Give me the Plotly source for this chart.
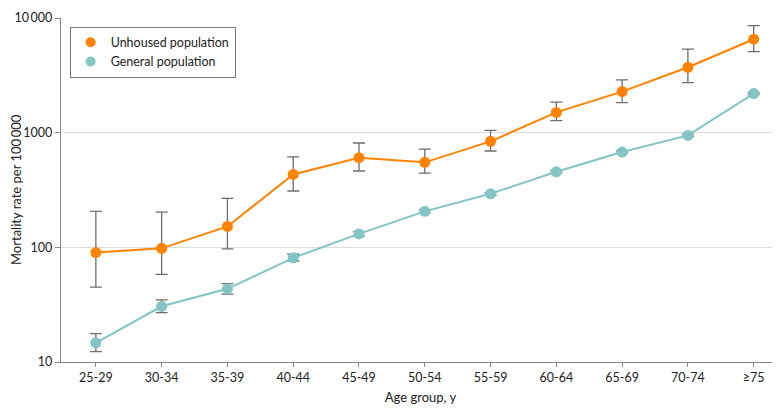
import plotly.graph_objects as go

age_groups = ["25-29", "30-34", "35-39", "40-44", "45-49", "50-54", "55-59", "60-64", "65-69", "70-74", "≥75"]

unhoused = [90, 98, 152, 432, 605, 551, 840, 1503, 2281, 3718, 6530]
unhoused_hi = [206, 203, 267, 614, 813, 719, 1047, 1850, 2885, 5345, 8590]
unhoused_lo = [45, 58, 97, 310, 463, 444, 692, 1273, 1828, 2737, 5090]

general = [14.7, 30.6, 43.5, 81, 131, 206, 293, 456, 678, 946, 2193]
general_hi = [17.7, 34.8, 48.3, 87, 137, 213, 302, 468, 693, 968, 2240]
general_lo = [12.3, 27, 39, 76, 125, 199, 284, 445, 664, 925, 2148]

y_tickvals = [10, 100, 1000, 10000]
y_ticktext = ["10", "100", "1000", "10\u2009000"]
y_title = "Mortality rate per 100\u2009000"
x_title = "Age group, y"

FONT = "Lato"
ORANGE = "#FF8200"
TEAL = "#82C5C4"


def err(vals, hi, lo):
    return dict(
        type="data",
        symmetric=False,
        array=[h - v for h, v in zip(hi, vals)],
        arrayminus=[v - l for v, l in zip(vals, lo)],
        color="#6e6e6e",
        thickness=1.3,
        width=6,
    )


fig = go.Figure()
for name, vals, hi, lo, col in [
    ("Unhoused population", unhoused, unhoused_hi, unhoused_lo, ORANGE),
    ("General population", general, general_hi, general_lo, TEAL),
]:
    fig.add_trace(go.Scatter(
        x=list(range(len(age_groups))), y=vals, name=name,
        mode="lines+markers", showlegend=False, legendgroup=name,
        line=dict(color=col, width=2),
        marker=dict(color=col, size=11),
        error_y=err(vals, hi, lo),
    ))
    # legend entry shows only the dot, as in the reference
    fig.add_trace(go.Scatter(
        x=[None], y=[None], name=name, mode="markers", legendgroup=name,
        marker=dict(color=col, size=10),
    ))

fig.update_layout(
    width=772, height=410,
    margin=dict(l=53, r=0, t=10, b=56),
    paper_bgcolor="white", plot_bgcolor="white",
    font=dict(family=FONT, size=12.5, color="#222"),
    showlegend=True,
    legend=dict(
        x=0.012, y=0.975, xanchor="left", yanchor="top",
        bgcolor="white", bordercolor="#777", borderwidth=1,
        font=dict(family=FONT, size=12.5, color="#222"),
        itemwidth=30, tracegroupgap=0,
    ),
    xaxis=dict(
        tickmode="array", tickvals=list(range(len(age_groups))), ticktext=age_groups,
        range=[-0.53, 10.4], showgrid=False, zeroline=False, automargin=False,
        showline=True, linecolor="#888", linewidth=1.3,
        ticks="outside", ticklen=4, tickcolor="#888",
        tickfont=dict(family=FONT, size=12.5, color="#222"),
        title=dict(text=x_title, font=dict(family=FONT, size=13, color="#222"), standoff=8),
    ),
    yaxis=dict(
        type="log", range=[1, 4], automargin=False,
        tickmode="array", tickvals=y_tickvals, ticktext=y_ticktext,
        showgrid=True, gridcolor="#dcdcdc", gridwidth=1.3, zeroline=False,
        showline=True, linecolor="#888", linewidth=1.3,
        ticks="outside", ticklen=5, tickcolor="#888",
        tickfont=dict(family=FONT, size=12.5, color="#222"),
    ),
    annotations=[dict(
        text=y_title, textangle=-90, showarrow=False,
        xref="paper", yref="paper", x=0, y=0.5,
        xanchor="center", yanchor="middle", xshift=-45,
        font=dict(family=FONT, size=13, color="#222"),
    )],
)

fig.write_html("out.html")
